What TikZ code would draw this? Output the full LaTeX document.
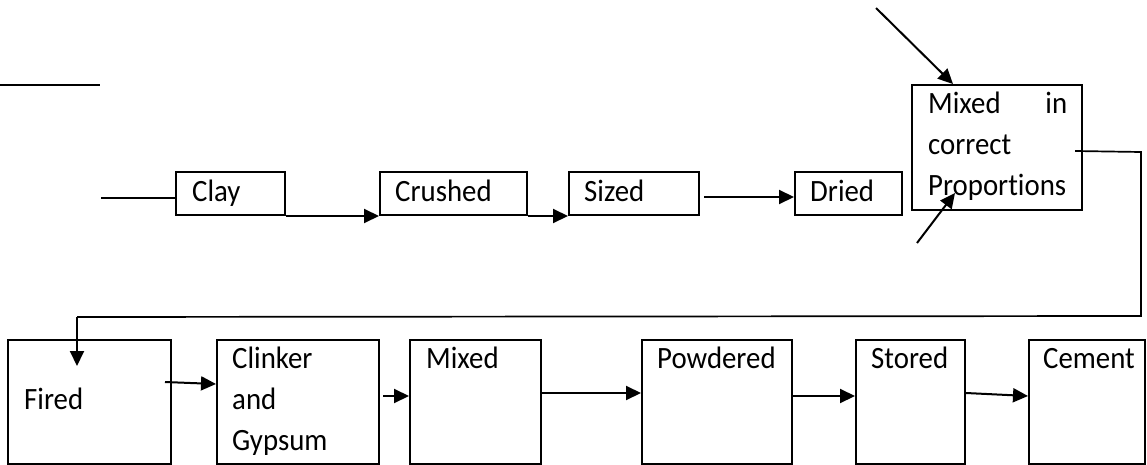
\documentclass[tikz,border=0pt]{standalone}
\usepackage{fontspec}
\setmainfont{Carlito}[Ligatures=NoCommon,FakeStretch=0.93]
\usetikzlibrary{arrows.meta,calc}
\begin{document}
\begin{tikzpicture}[x=1pt,y=-1pt,
  box/.style={draw,line width=2pt,inner sep=0pt,minimum height=43pt},
  bigbox/.style={draw,line width=2pt,inner sep=0pt,minimum height=124pt},
  txt/.style={inner sep=0pt,anchor=base west,font=\fontsize{31}{41}\selectfont,align=left},
  ln/.style={line width=1.7pt},
  arr/.style={line width=2pt,-{Triangle[length=15pt,width=14pt]}}]
\useasboundingbox (0,0) rectangle (1147,465);
% top row
\node[box,minimum width=109pt] (clay) at (230.5,193.5) {};
\node[box,minimum width=147pt] (crushed) at (453.5,193.5) {};
\node[box,minimum width=130pt] (sized) at (634,193.5) {};
\node[box,minimum width=107pt] (dried) at (848.5,193.5) {};
\node[draw,line width=2pt,inner sep=0pt,minimum width=170pt,minimum height=125pt] (mixed) at (997,147.5) {};
\node[txt] (tclay) at (192,201.5) {Clay};
\node[txt] (tcrushed) at (395,201.5) {Crushed};
\node[txt] (tsized) at (584,201.5) {Sized};
\node[txt] (tdried) at (810,201.5) {Dried};
\node[txt,text width=139pt] (tmixed) at (928,113.3) {Mixed\hfill in\\correct\\Proportions};
% bottom row
\node[bigbox,minimum width=163pt] (fired) at (89.5,402) {};
\node[bigbox,minimum width=162pt] (clinker) at (298,402) {};
\node[bigbox,minimum width=131pt] (mixedb) at (475.5,402) {};
\node[bigbox,minimum width=150pt] (powdered) at (717,402) {};
\node[bigbox,minimum width=109pt] (stored) at (910.5,402) {};
\node[bigbox,minimum width=116pt] (cement) at (1087,402) {};
\node[txt] (tfired) at (24,409) {Fired};
\node[txt] (tclinker) at (232,450) {Clinker\\and\\Gypsum};
\node[txt] (tmixedb) at (426,368) {Mixed};
\node[txt] (tpowdered) at (657,368) {Powdered};
\node[txt] (tstored) at (871,368.3) {Stored};
\node[txt] (tcement) at (1043,368.3) {Cement};
% free ends
\coordinate (tl1) at (0,85);
\coordinate (tl2) at (100,85);
\coordinate (clayin) at (101,198);
\coordinate (topin) at (876,8);
\coordinate (botin) at (917,243);
\coordinate (mixtip1) at (953,84);
\coordinate (mixtip2) at (955,193);
\coordinate (mixout) at (1075,151);
\coordinate (c1) at (1141,152);
\coordinate (c2) at (1141,316);
\coordinate (c3) at (77,317);
\coordinate (firedtip) at (77,366);
% connectors
\draw[ln] (tl1) -- (tl2);
\draw[ln] (clayin) -- (clayin -| clay.west);
\draw[arr] (clay.south east) -- (crushed.south west);
\draw[arr] (crushed.south east) -- (sized.south west);
\draw[arr] ([xshift=4pt,yshift=-3.5pt]sized.east) -- ([yshift=-3.5pt]dried.west);
\draw[arr] (topin) -- (mixtip1);
\draw[arr] (botin) -- (mixtip2);
\draw[ln] (mixout) -- (c1) -- (c2) -- (c3);
\draw[arr] (c3) -- (firedtip);
\draw[arr] (165,382) -- (clinker.west |- 0,384);
\draw[arr] (383,396) -- (mixedb.west |- 0,396);
\draw[arr] (mixedb.east |- 0,393) -- (powdered.west |- 0,393);
\draw[arr] (powdered.east |- 0,396) -- (stored.west |- 0,396);
\draw[arr] (stored.east |- 0,393) -- (cement.west |- 0,396);
\end{tikzpicture}
\end{document}
